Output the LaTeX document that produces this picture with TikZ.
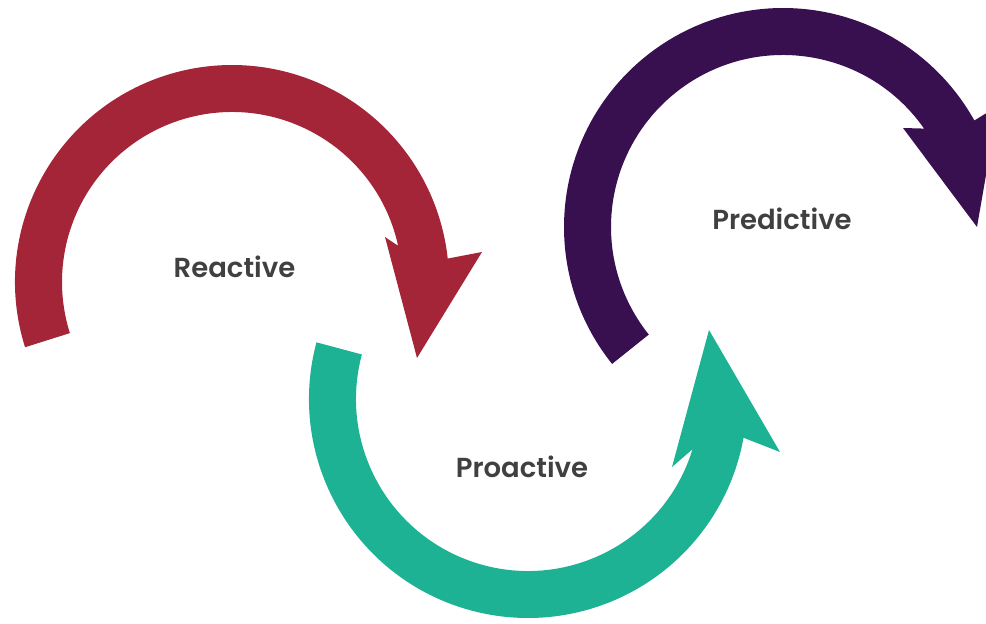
\documentclass[tikz,border=0pt]{standalone}
\usepackage{fontspec}
\setmainfont{Poppins}[BoldFont={Poppins SemiBold}]
\definecolor{reactred}{HTML}{A52538}
\definecolor{proteal}{HTML}{1DB294}
\definecolor{predpurple}{HTML}{381050}
\definecolor{labelgray}{HTML}{404040}
\begin{document}
\begin{tikzpicture}[x=1pt, y=1pt, label node/.style={anchor=base,text=labelgray,font=\fontsize{27.5}{30}\selectfont\bfseries,inner sep=0pt}]
\useasboundingbox (0,0) rectangle (986,624);
\clip (0,0) rectangle (986,624);
\coordinate (c1) at (232,342);
\coordinate (c2) at (528,225);
\coordinate (c3) at (783,397);

\fill [reactred] ([shift={(197.5:217)}]c1) arc[start angle=197.5, end angle=6.2, radius=217]
  -- (482,372) -- (417,266) -- (385,387) -- ([shift={(12.3:170)}]c1)
  arc[start angle=12.3, end angle=197.5, radius=170] -- cycle;
\fill [proteal] ([shift={(165:219)}]c2) arc[start angle=165, end angle=349.8, radius=219]
  -- (780,172) -- (709,294) -- (672,157) -- ([shift={(343:172)}]c2)
  arc[start angle=343, end angle=165, radius=172] -- cycle;
\fill [predpurple] ([shift={(218.7:219)}]c3) arc[start angle=218.7, end angle=29.1, radius=219]
  -- (998,518) -- (977,397) -- (903,496) -- ([shift={(34.9:172)}]c3)
  arc[start angle=34.9, end angle=218.7, radius=172] -- cycle;

\node [label node] (l1) at (234.5,346) {Reactive};
\node [label node] (l2) at (522,146) {Proactive};
\node [label node] (l3) at (782,394) {Predictive};
\end{tikzpicture}
\end{document}
